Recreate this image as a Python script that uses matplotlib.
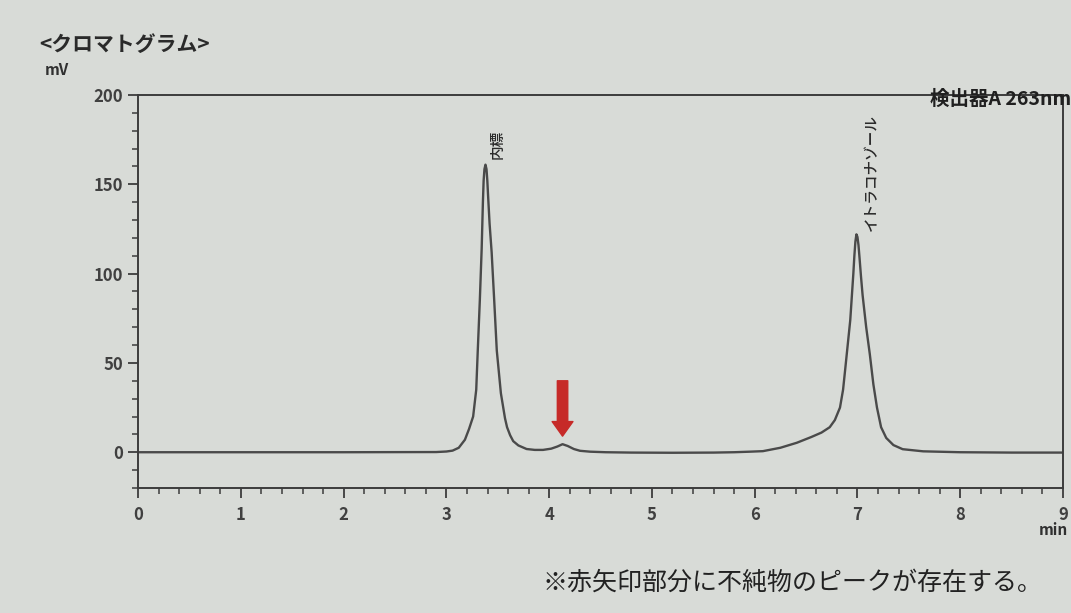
import matplotlib
matplotlib.use("Agg")
import matplotlib.pyplot as plt
from matplotlib.ticker import MultipleLocator

plt.rcParams['font.family'] = ['Noto Sans CJK JP', 'DejaVu Sans']

# Chromatogram trace (time in min, signal in mV)
time_min = [0.0, 1.0, 2.0, 2.9, 3.0, 3.06, 3.12, 3.18, 3.22, 3.26, 3.29, 3.305,
            3.325, 3.343, 3.355, 3.362, 3.37, 3.38, 3.39, 3.398, 3.405, 3.42,
            3.44, 3.465, 3.49, 3.53, 3.57, 3.59, 3.62, 3.65, 3.70, 3.78, 3.86,
            3.94, 4.02, 4.08, 4.13, 4.18, 4.24, 4.30, 4.40, 4.55, 4.8, 5.2, 5.6,
            5.8, 5.95, 6.08, 6.25, 6.41, 6.55, 6.65, 6.73, 6.78, 6.83, 6.86,
            6.88, 6.905, 6.93, 6.945, 6.96, 6.97, 6.98, 6.99, 7.0, 7.01, 7.02,
            7.035, 7.05, 7.085, 7.12, 7.155, 7.19, 7.23, 7.28, 7.35, 7.44, 7.64,
            8.0, 8.5, 9.0]
signal_mv = [0.0, 0.0, 0.0, 0.1, 0.4, 0.9, 2.5, 7.0, 13.0, 20.0, 35.0, 57.0,
             85.0, 114.0, 140.0, 152.0, 158.5, 161.0, 158.5, 152.0, 144.0, 128.0,
             112.0, 85.0, 57.0, 33.0, 19.0, 14.0, 9.5, 6.2, 3.8, 1.8, 1.3,
             1.3, 2.0, 3.2, 4.5, 3.5, 1.8, 0.8, 0.3, 0.0, -0.2, -0.3, -0.2,
             0.0, 0.3, 0.6, 2.5, 5.3, 8.5, 11.0, 14.0, 18.0, 25.0, 35.0,
             46.0, 60.0, 74.0, 87.0, 100.0, 110.0, 118.0, 122.0, 120.5, 116.0, 109.0,
             98.0, 88.0, 70.0, 55.0, 38.0, 25.0, 14.0, 8.0, 4.0, 1.7, 0.5,
             0.0, -0.2, -0.2]

# Peak labels
peak_names = ["内標", "イトラコナゾール"]
peak_label_x = [3.5, 7.14]
peak_label_y = [164, 124]

# Impurity arrow
arrow_x = 4.13
arrow_from = 40
arrow_to = 9

x_ticks = list(range(0, 10))
y_ticks = [0, 50, 100, 150, 200]

bg = '#d8dbd7'
ink = '#3c3c3c'

fig = plt.figure(figsize=(10.71, 6.13), dpi=100, facecolor=bg)
ax = fig.add_axes([0.129, 0.204, 0.8635, 0.641], facecolor=bg)

ax.plot(time_min, signal_mv, color='#4a4a4a', lw=1.7, solid_joinstyle='round')

ax.set_xlim(0, 9)
ax.set_ylim(-20, 200)
ax.set_xticks(x_ticks)
ax.set_yticks(y_ticks)
ax.xaxis.set_minor_locator(MultipleLocator(0.2))
ax.yaxis.set_minor_locator(MultipleLocator(10))
ax.tick_params(axis='both', which='major', direction='out', length=7, width=1.3,
               colors=ink, labelsize=12, pad=4)
ax.tick_params(axis='both', which='minor', direction='out', length=4, width=1.1,
               colors=ink)
ax.tick_params(axis='x', which='major', pad=6)
for lab in ax.get_xticklabels() + ax.get_yticklabels():
    lab.set_fontweight('bold')
    lab.set_color('#404040')
for s in ax.spines.values():
    s.set_color(ink)
    s.set_linewidth(1.4)

for name, lx, ly in zip(peak_names, peak_label_x, peak_label_y):
    ax.text(lx, ly, name, rotation=90, ha='center', va='bottom', fontsize=10.5,
            fontweight='medium', color='#2a2a2a')

ax.annotate('', xy=(arrow_x, arrow_to), xytext=(arrow_x, arrow_from),
            arrowprops=dict(arrowstyle='simple,head_length=0.7,head_width=1.0,tail_width=0.5',
                            color='#c62a28', mutation_scale=15, shrinkA=0, shrinkB=0))

fig.text(0.037, 0.927, "<クロマトグラム>", fontsize=15, fontweight='bold',
         color='#2a2a2a', ha='left', va='center')
fig.text(0.042, 0.886, "mV", fontsize=11, fontweight='bold', color='#303030',
         ha='left', va='center')
fig.text(1.0, 0.838, "検出器A 263nm", fontsize=14, fontweight='bold',
         color='#202020', ha='right', va='center')
fig.text(0.997, 0.135, "min", fontsize=11, fontweight='bold', color='#303030',
         ha='right', va='center')
fig.text(0.507, 0.049, "※赤矢印部分に不純物のピークが存在する。", fontsize=18,
         color='#222222', ha='left', va='center')

fig.savefig('out.png', dpi=100, facecolor=bg)
